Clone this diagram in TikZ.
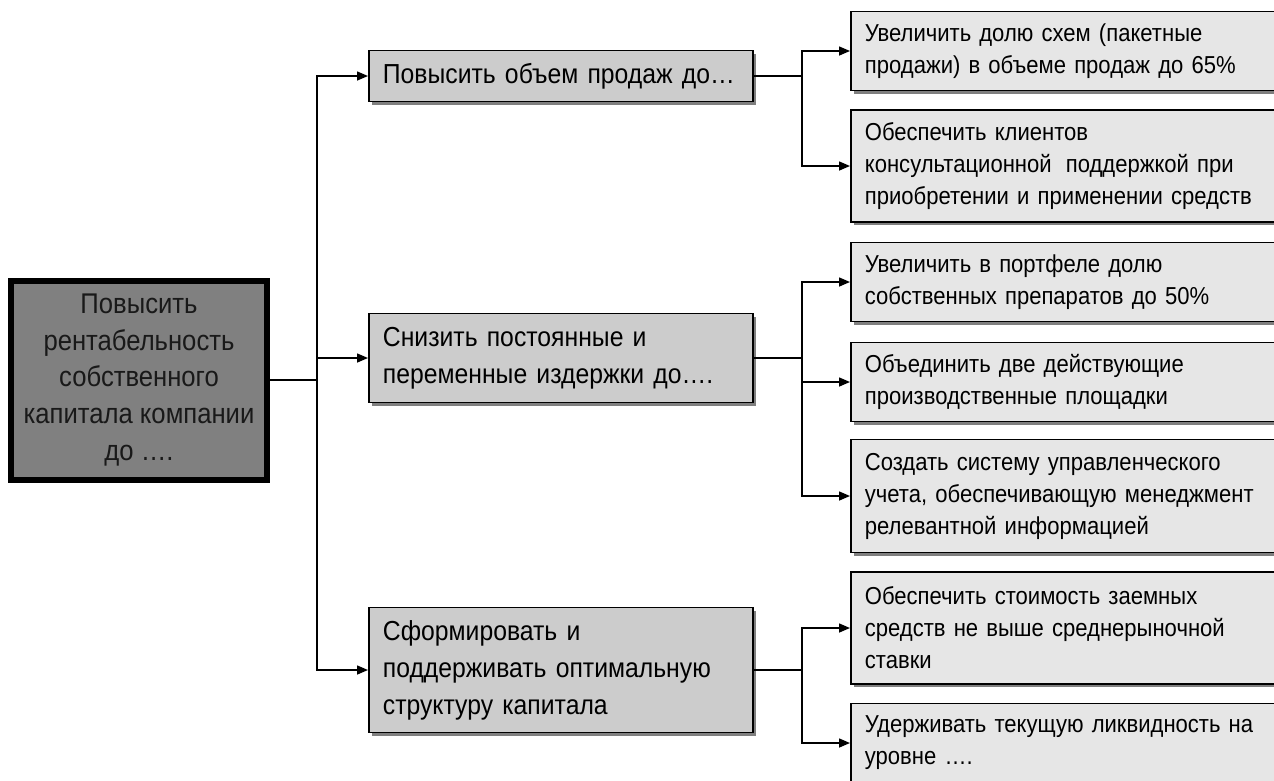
\documentclass[tikz,border=0pt]{standalone}
\usepackage{fontspec}
\setmainfont{Liberation Sans}[FakeStretch=0.9]
\usetikzlibrary{arrows.meta,shadows}
\definecolor{rootgray}{HTML}{808080}
\definecolor{midgray}{HTML}{CCCCCC}
\definecolor{leafgray}{HTML}{E6E6E6}
\begin{document}
\begin{tikzpicture}[x=1pt,y=-1pt,
  conn/.style={line width=1.5pt, draw=black},
  arr/.style={conn, -{Triangle[length=11pt,width=9pt]}},
  shade3/.style={drop shadow={shadow xshift=3pt, shadow yshift=-3pt, fill=black, opacity=.5}},
  rootbox/.style={draw=black, line width=6pt, fill=rootgray, shade3,
    minimum width=256pt, minimum height=199pt, inner sep=0pt,
    align=center, text=black!90, font=\fontsize{28.5}{36.7}\selectfont},
  midbox/.style={draw=black, line width=1.8pt, fill=midgray, shade3, anchor=west,
    minimum width=384pt, text width=356pt, inner xsep=14pt, inner ysep=0pt,
    align=left, font=\fontsize{27.5}{37}\selectfont},
  leafbox/.style={draw=black, line width=1.8pt, fill=leafgray, shade3, anchor=west,
    minimum width=440pt, text width=412pt, inner xsep=14pt, inner ysep=0pt,
    align=left, font=\fontsize{24.5}{32}\selectfont}]
\useasboundingbox (0,0) rectangle (1274,780);
\clip (0,0) rectangle (1274,780);

% root goal
\node[rootbox] (root) at (139,380) {Повысить\\рентабельность\\собственного\\капитала компании\\до ….};

% second level
\node[midbox, minimum height=51pt] (A) at (368,76) {Повысить объем продаж до…};
\node[midbox, minimum height=89pt] (B) at (368,358) {Снизить постоянные и\\переменные издержки до….};
\node[midbox, minimum height=125pt] (C) at (368,670) {Сформировать и\\поддерживать оптимальную\\структуру капитала};

% third level
\node[leafbox, minimum height=79pt] (R1) at (850,51) {Увеличить долю схем (пакетные\\продажи) в объеме продаж до 65\%};
\node[leafbox, minimum height=112pt] (R2) at (850,166) {Обеспечить клиентов\\консультационной\hspace{6pt} поддержкой при\\приобретении и применении средств};
\node[leafbox, minimum height=79pt] (R3) at (850,282) {Увеличить в портфеле долю\\собственных препаратов до 50\%};
\node[leafbox, minimum height=79pt] (R4) at (850,382) {Объединить две действующие\\производственные площадки};
\node[leafbox, minimum height=113pt] (R5) at (850,496) {Создать систему управленческого\\учета, обеспечивающую менеджмент\\релевантной информацией};
\node[leafbox, minimum height=112pt] (R6) at (850,628) {Обеспечить стоимость заемных\\средств не выше среднерыночной\\ставки};
\node[leafbox, minimum height=79pt] (R7) at (850,743) {Удерживать текущую ликвидность на\\уровне ….};

% connector rails
\coordinate (trunk) at (317,0);
\coordinate (rail) at (802,0);

\draw[conn] (root.east) -- (root.east -| trunk);
\foreach \m in {A,B,C}
  \draw[arr] (root.east -| trunk) |- (\m.west);

\draw[conn] (A.east) -- (A.east -| rail);
\foreach \r in {R1,R2}
  \draw[arr] (A.east -| rail) |- (\r.west);

\draw[conn] (B.east) -- (B.east -| rail);
\foreach \r in {R3,R4,R5}
  \draw[arr] (B.east -| rail) |- (\r.west);

\draw[conn] (C.east) -- (C.east -| rail);
\foreach \r in {R6,R7}
  \draw[arr] (C.east -| rail) |- (\r.west);
\end{tikzpicture}
\end{document}
